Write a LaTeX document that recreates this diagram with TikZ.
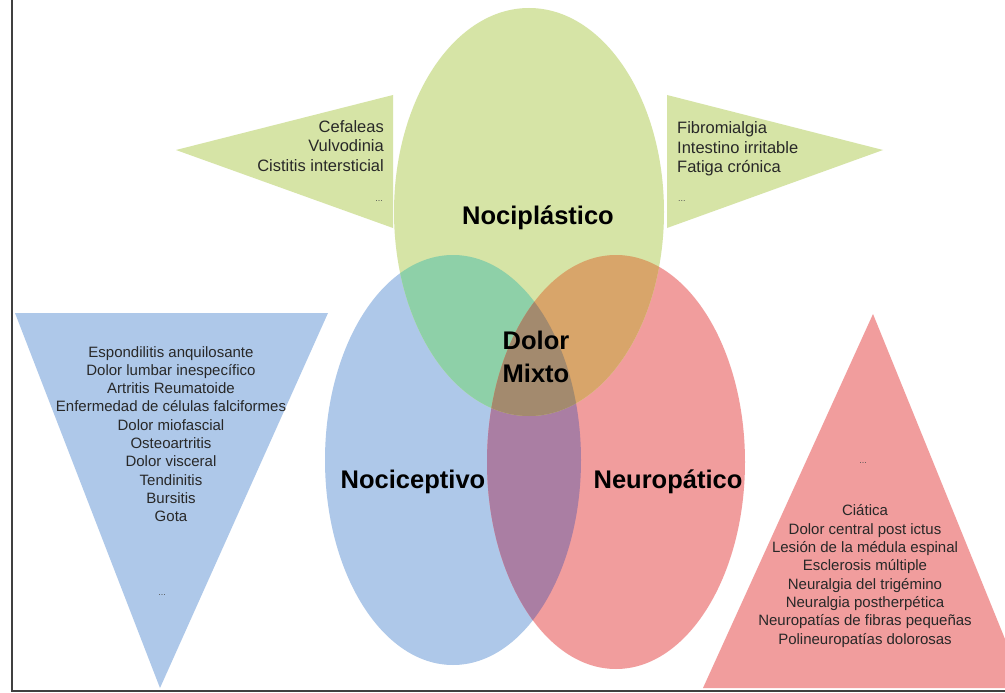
\documentclass[tikz,border=0pt]{standalone}
\usepackage{fontspec}
\setmainfont{Liberation Sans}
\definecolor{cG}{RGB}{214,228,166}
\definecolor{cB}{RGB}{174,200,233}
\definecolor{cR}{RGB}{241,157,157}
\definecolor{cGB}{RGB}{142,208,168}
\definecolor{cGR}{RGB}{216,165,106}
\definecolor{cBR}{RGB}{170,126,163}
\definecolor{cGBR}{RGB}{163,138,110}
\definecolor{txt}{RGB}{40,40,40}
\begin{document}
\begin{tikzpicture}[x=1pt,y=-1pt,
  listtxt/.style={inner sep=0pt,text=txt,font=\fontsize{15}{18.3}\selectfont},
  toptxt/.style={inner sep=0pt,text=txt,font=\fontsize{16.5}{19.6}\selectfont},
  dots/.style={inner sep=0pt,text=txt!80,font=\fontsize{9}{10}\selectfont},
  biglabel/.style={inner sep=0pt,text=black,font=\fontsize{25.5}{33}\selectfont\bfseries,align=center}]
\useasboundingbox (0,0) rectangle (1005,693);
\fill[white] (0,0) rectangle (1005,693);
% triangles
\fill[cG] (393,95) -- (393,228) -- (176,150) -- cycle;
\fill[cG] (667,95) -- (667,228) -- (883,150) -- cycle;
\fill[cB] (15,313) -- (328,313) -- (160,688) -- cycle;
\fill[cR] (873,314) -- (703,688) -- (1005,688) -- (1005,639) -- cycle;
% ellipses
\def\ellG{(529,212) ellipse [x radius=135, y radius=204]}
\def\ellB{(453,460) ellipse [x radius=128, y radius=205]}
\def\ellR{(616,462) ellipse [x radius=129, y radius=207]}
\fill[cB] \ellB;
\fill[cR] \ellR;
\fill[cG] \ellG;
\begin{scope}
  \clip \ellB;
  \fill[cBR] \ellR;
\end{scope}
\begin{scope}
  \clip \ellG;
  \fill[cGB] \ellB;
  \fill[cGR] \ellR;
  \clip \ellB;
  \fill[cGBR] \ellR;
\end{scope}
% frame
\draw[line width=2pt, black!75] (12,0) -- (12,691) -- (1005,691);
% labels
\node[biglabel] (nocipl) at (538,218) {Nociplástico};
\node[biglabel] (mixto) at (536,357) {Dolor\\Mixto};
\node[biglabel] (nocic) at (413,482) {Nociceptivo};
\node[biglabel] (neuro) at (668,482) {Neuropático};
% lists
\node[toptxt,align=right,anchor=east] (tl) at (384,146) {Cefaleas\\Vulvodinia\\Cistitis intersticial};
\node[dots,anchor=east] (tldots) at (383,201) {...};
\node[toptxt,align=left,anchor=west] (tr) at (677,149) {Fibromialgia\\Intestino irritable\\Fatiga crónica};
\node[dots,anchor=west] (trdots) at (678,201) {...};
\node[listtxt,align=center] (bl) at (171,434) {Espondilitis anquilosante\\Dolor lumbar inespecífico\\Artritis Reumatoide\\Enfermedad de células falciformes\\Dolor miofascial\\Osteoartritis\\Dolor visceral\\Tendinitis\\Bursitis\\Gota};
\node[dots] (bldots) at (162,595) {...};
\node[dots] (brdots) at (863,463) {...};
\node[listtxt,align=center] (br) at (865,576) {Ciática\\Dolor central post ictus\\Lesión de la médula espinal\\Esclerosis múltiple\\Neuralgia del trigémino\\Neuralgia postherpética\\Neuropatías de fibras pequeñas\\Polineuropatías dolorosas};
\end{tikzpicture}
\end{document}
